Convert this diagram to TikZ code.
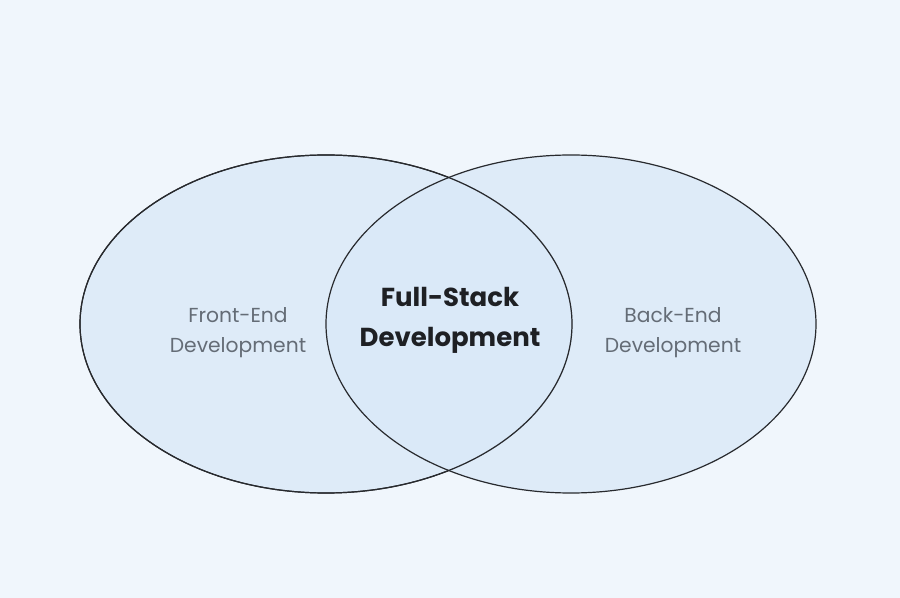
\documentclass[tikz,border=0pt]{standalone}
\usepackage{fontspec}
\setmainfont{Poppins}
\definecolor{bgblue}{RGB}{240,246,252}
\definecolor{setblue}{RGB}{218,233,248}
\definecolor{labelgray}{RGB}{100,108,118}
\definecolor{titleink}{RGB}{30,32,36}
\begin{document}
\begin{tikzpicture}[x=0.75pt,y=0.75pt,yscale=-1,xscale=1]
\tikzset{setshape/.style={draw={rgb,255:red,40;green,42;blue,46},line width=0.9pt,fill=setblue,fill opacity=0.8},
  sidelabel/.style={align=center,text=labelgray,font=\fontsize{15.2}{22.5}\selectfont},
  midlabel/.style={align=center,text=titleink,font=\fontsize{19.5}{30}\selectfont\bfseries}}
%Background
\fill [bgblue] (0,0) rectangle (900,598) ;
%Shape: Ellipse (front end)
\draw [setshape] (326,324) ellipse (246 and 169) ;
%Shape: Ellipse (back end)
\draw [setshape] (571,324) ellipse (245 and 169) ;
%Redraw outline of front end over back end fill
\draw [line width=0.9pt,draw={rgb,255:red,40;green,42;blue,46}] (326,324) ellipse (246 and 169) ;

% Text Node
\node (front) [sidelabel] at (238,333) {Front-End\\Development};
% Text Node
\node (full) [midlabel] at (450,320) {Full-Stack\\Development};
% Text Node
\node (back) [sidelabel] at (673,333) {Back-End\\Development};
\end{tikzpicture}
\end{document}
